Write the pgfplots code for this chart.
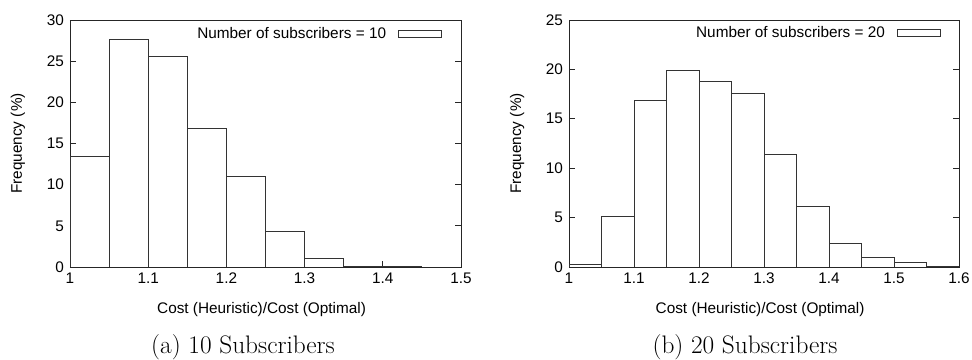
\documentclass[border=0pt]{standalone}
\usepackage{fontspec}
\setsansfont{Liberation Sans}
\usepackage{pgfplots}
\pgfplotsset{compat=1.18}
\newcommand\lab{\fontsize{11.5}{13}\selectfont\sffamily}
\pgfplotsset{
  hist/.style={
    scale only axis,
    width=293.25pt, height=185.25pt,
    ymin=0,
    axis line style={black!85, line width=0.7pt},
    tick align=inside,
    xtick pos=bottom,
    ytick pos=both,
    major tick length=4.5pt,
    tick style={black!85, line width=0.6pt},
    /pgf/number format/assume math mode=true,
    tick label style={font=\lab},
    label style={font=\lab},
    xlabel={Cost (Heuristic)/Cost (Optimal)},
    ylabel={Frequency (\%)},
    xlabel style={at={(axis description cs:0.49,-0.174)}, anchor=center},
    ylabel style={at={(axis description cs:-0.133,0.5)}, anchor=center},
    legend plot pos=right,
    legend style={draw=none, fill=none, font=\lab, inner sep=0pt, anchor=east},
    legend image code/.code={\path (0pt,0pt) (7pt,0pt);\draw[black!80, line width=0.6pt, fill=white] (7pt,-2.6pt) rectangle (39pt,2.6pt);},
    xticklabel style={yshift=-1pt},
    yticklabel style={xshift=-1pt},
  },
  hbar/.style={ybar interval, fill=white, draw=black!80, line width=0.6pt},
}
\begin{document}
\begin{tikzpicture}
\path[use as bounding box] (0pt,0pt) rectangle (729pt,270pt);
\begin{axis}[hist, at={(52.5pt,69.75pt)}, anchor=south west,
  xmin=1, xmax=1.5, ymax=30,
  xtick={1,1.1,1.2,1.3,1.4,1.5},
  ytick={0,5,10,15,20,25,30},
  legend style={at={(axis description cs:0.951,0.943)}}]
\addplot[hbar] coordinates {
(1.00,13.4) (1.05,27.6) (1.10,25.6) (1.15,16.8) (1.20,11.0)
(1.25,4.3) (1.30,1.1) (1.35,0.1) (1.40,0.1) (1.45,0)};
\addlegendentry{Number of subscribers = 10}
\end{axis}
\begin{axis}[hist, at={(426.75pt,69.75pt)}, anchor=south west, width=292.5pt,
  xmin=1, xmax=1.6, ymax=25,
  xtick={1,1.1,1.2,1.3,1.4,1.5,1.6},
  ytick={0,5,10,15,20,25},
  legend style={at={(axis description cs:0.953,0.947)}}]
\addplot[hbar] coordinates {
(1.00,0.3) (1.05,5.1) (1.10,16.9) (1.15,19.9) (1.20,18.8) (1.25,17.6)
(1.30,11.4) (1.35,6.1) (1.40,2.4) (1.45,1.0) (1.50,0.5) (1.55,0.08) (1.60,0)};
\addlegendentry{Number of subscribers = 20}
\end{axis}
\node[anchor=base, font=\fontsize{19}{21}\selectfont] at (182.25pt,4.5pt) {(a) 10 Subscribers};
\node[anchor=base, font=\fontsize{19}{21}\selectfont] at (558.75pt,4.5pt) {(b) 20 Subscribers};
\end{tikzpicture}
\end{document}
